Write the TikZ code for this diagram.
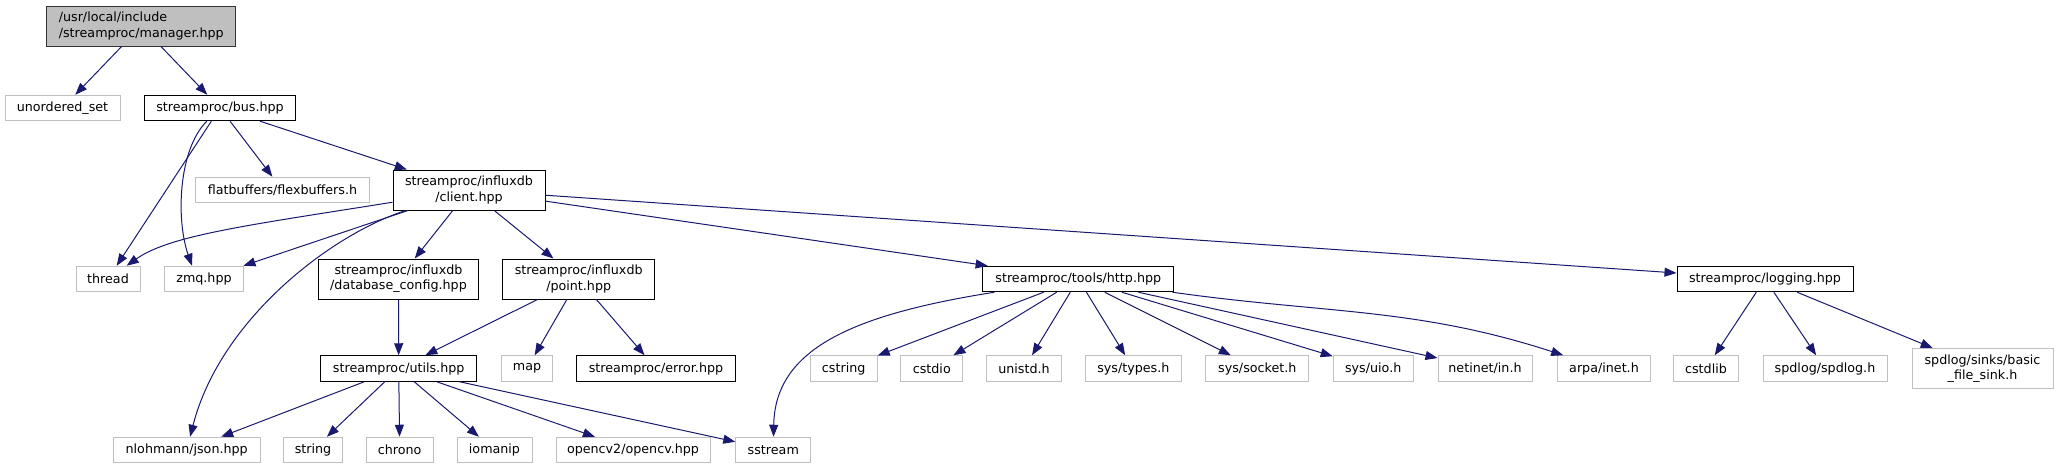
\documentclass[tikz,border=0pt]{standalone}
\usepackage{fontspec}
\setmainfont{DejaVu Sans}
\usetikzlibrary{arrows.meta}
\definecolor{edgeblue}{HTML}{191970}
\definecolor{grey75}{HTML}{BFBFBF}
\tikzset{
  file/.style={draw=black,fill=white,line width=1pt,inner sep=0pt,minimum height=25.5pt,
    font=\fontsize{12.7}{15.3}\selectfont,align=center},
  sysfile/.style={file,draw=grey75},
  rootfile/.style={file,fill=grey75,draw=black!80,align=left},
  dep/.style={edgeblue,line width=1pt,-{Triangle[length=12pt,width=9pt]}},
}
\begin{document}
\begin{tikzpicture}[x=1pt,y=-1pt]
\useasboundingbox (0,0) rectangle (2059,469);
% ranks, top to bottom
\node[rootfile,minimum width=189pt,minimum height=40pt] (manager) at (141.3,26) {/usr/local/include\\/streamproc/manager.hpp};
\node[sysfile,minimum width=115pt] (uset) at (62.5,108) {unordered\_set};
\node[file,minimum width=151pt] (bus) at (220,108) {streamproc/bus.hpp};
\node[sysfile,minimum width=174pt] (flatbuf) at (282.5,190) {flatbuffers/flexbuffers.h};
\node[file,minimum width=152pt,minimum height=40pt] (client) at (469,190) {streamproc/influxdb\\/client.hpp};
\node[sysfile,minimum width=64pt] (thread) at (108,279) {thread};
\node[sysfile,minimum width=79pt] (zmq) at (204,279) {zmq.hpp};
\node[file,minimum width=160pt,minimum height=40pt] (dbconf) at (398.5,279) {streamproc/influxdb\\/database\_config.hpp};
\node[file,minimum width=152pt,minimum height=40pt] (point) at (578.7,279) {streamproc/influxdb\\/point.hpp};
\node[file,minimum width=191pt] (http) at (1078.3,279) {streamproc/tools/http.hpp};
\node[file,minimum width=176pt] (logging) at (1765,279) {streamproc/logging.hpp};
\node[file,minimum width=156pt] (utils) at (398.7,368.5) {streamproc/utils.hpp};
\node[sysfile,minimum width=51pt] (map) at (527,368.5) {map};
\node[file,minimum width=159pt] (error) at (656,368.5) {streamproc/error.hpp};
\node[sysfile,minimum width=67pt] (cstr) at (843.7,368.5) {cstring};
\node[sysfile,minimum width=62pt] (cstdio) at (931.8,368.5) {cstdio};
\node[sysfile,minimum width=75pt] (unistd) at (1024,368.5) {unistd.h};
\node[sysfile,minimum width=96pt] (systypes) at (1133.3,368.5) {sys/types.h};
\node[sysfile,minimum width=103pt] (syssocket) at (1257.3,368.5) {sys/socket.h};
\node[sysfile,minimum width=80pt] (sysuio) at (1373.2,368.5) {sys/uio.h};
\node[sysfile,minimum width=94pt] (netinet) at (1485,368.5) {netinet/in.h};
\node[sysfile,minimum width=93pt] (arpa) at (1604,368.5) {arpa/inet.h};
\node[sysfile,minimum width=65pt] (cstdlib) at (1706,368.5) {cstdlib};
\node[sysfile,minimum width=124pt] (spdlog) at (1825,368.5) {spdlog/spdlog.h};
\node[sysfile,minimum width=141pt,minimum height=40pt] (sink) at (1982.5,368.5) {spdlog/sinks/basic\\\_file\_sink.h};
\node[sysfile,minimum width=147pt] (json) at (186.7,450) {nlohmann/json.hpp};
\node[sysfile,minimum width=59pt] (string) at (313,450) {string};
\node[sysfile,minimum width=67pt] (chrono) at (399.7,450) {chrono};
\node[sysfile,minimum width=75pt] (iomanip) at (494.5,450) {iomanip};
\node[sysfile,minimum width=154pt] (opencv) at (633,450) {opencv2/opencv.hpp};
\node[sysfile,minimum width=75pt] (sstream) at (773.3,450) {sstream};
% include edges
\foreach \t in {uset,bus} \draw[dep] (manager) -- (\t);
\foreach \t in {thread,flatbuf,client} \draw[dep] (bus) -- (\t);
\draw[dep] (bus) .. controls (178,150) and (176,220) .. ([xshift=-12pt]zmq.north);
\foreach \t in {zmq,dbconf,point,http,logging} \draw[dep] (client) -- (\t);
\draw[dep] (client) .. controls (250,225) and (170,235) .. (thread);
\draw[dep] (client) .. controls (330,235) and (220,320) .. (json);
\draw[dep] (dbconf) -- (utils);
\foreach \t in {utils,map,error} \draw[dep] (point) -- (\t);
\foreach \t in {json,string,chrono,iomanip,opencv,sstream} \draw[dep] (utils) -- (\t);
\foreach \t in {cstr,cstdio,unistd,systypes,syssocket,sysuio,netinet} \draw[dep] (http) -- (\t);
\draw[dep] (http) .. controls (850,315) and (775,350) .. (sstream);
\draw[dep] (http) to[out=-8,in=162] (arpa);
\foreach \t in {cstdlib,spdlog,sink} \draw[dep] (logging) -- (\t);
\end{tikzpicture}
\end{document}
